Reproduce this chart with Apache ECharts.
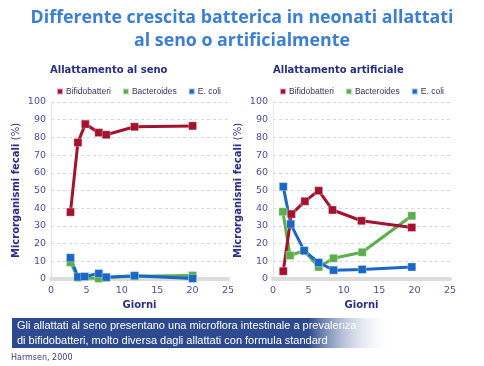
<!DOCTYPE html>
<html><head><meta charset="utf-8">
<script src="https://cdn.jsdelivr.net/npm/echarts@6/dist/echarts.min.js"></script>
<style>html,body{margin:0;padding:0;background:#fff}#c{width:484px;height:366px}</style>
</head><body><div id="c"></div>
<script>
const seriesNames = ['Bifidobatteri', 'Bacteroides', 'E. coli'];
const xTicks = [0, 5, 10, 15, 20, 25];
const yTicks = [0, 10, 20, 30, 40, 50, 60, 70, 80, 90, 100];

// Allattamento al seno: [giorno, %]
const senoBifido = [[2.75, 37.8], [3.8, 77.1], [4.85, 87.5], [6.75, 82.7], [7.8, 81.5], [11.8, 86], [20, 86.5]];
const senoBacteroides = [[2.75, 9.4], [3.8, 0.8], [6.75, 0.3], [7.8, 0.8], [11.8, 1.5], [20, 2]];
const senoEcoli = [[2.75, 12], [3.8, 1.2], [4.75, 1.4], [6.75, 3.1], [7.8, 1], [11.8, 1.9], [20, 0.3]];

// Allattamento artificiale
const artBifido = [[1.45, 4.4], [2.6, 36.7], [4.5, 43.9], [6.45, 49.9], [8.4, 39], [12.5, 32.9], [19.6, 29.1]];
const artBacteroides = [[1.4, 38], [2.4, 13.3], [4.4, 16], [6.45, 6.8], [8.55, 11.7], [12.6, 15.1], [19.6, 35.7]];
const artEcoli = [[1.45, 52.2], [2.5, 31], [4.4, 16], [6.45, 9.3], [8.55, 5], [12.6, 5.4], [19.6, 6.8]];

const colors = ['#a3132f', '#5aae4c', '#1a67c6'];
const navy = '#2b2d82';
const tickColor = '#4a4f9a';

function xAxis(idx) {
  return {
    type: 'value', gridIndex: idx, min: 0, max: 25, interval: 5,
    name: 'Giorni', nameLocation: 'middle', nameGap: 21,
    nameTextStyle: { fontFamily: 'DejaVu Sans', fontWeight: 'bold', fontSize: 10, color: navy },
    axisLine: { show: true, onZero: false, lineStyle: { color: '#dcdcdc', width: 4 } },
    axisTick: { show: false },
    axisLabel: { color: tickColor, fontFamily: 'DejaVu Sans', fontSize: 9.5, margin: 7,
      formatter: v => xTicks.includes(v) ? String(v) : '' },
    splitLine: { show: false }
  };
}
function yAxis(idx) {
  return {
    type: 'value', gridIndex: idx, min: 0, max: 100, interval: 10,
    name: '{b|Microrganismi fecali} {n|(%)}', nameLocation: 'middle', nameGap: 29,
    nameTextStyle: { rich: {
      b: { fontFamily: 'DejaVu Sans', fontWeight: 'bold', fontSize: 10, color: navy },
      n: { fontFamily: 'DejaVu Sans', fontSize: 10, color: navy } } },
    axisLine: { show: true, lineStyle: { color: '#e6e6e6', width: 1 } },
    axisTick: { show: false },
    axisLabel: { color: tickColor, fontFamily: 'DejaVu Sans', fontSize: 9.5, margin: 5,
      formatter: v => yTicks.includes(v) ? String(v) : '' },
    splitLine: { show: true, lineStyle: { color: '#d8d8d8', type: [3, 3], width: 1 } }
  };
}
function line(name, data, ci, gi) {
  return {
    type: 'line', name, data, xAxisIndex: gi, yAxisIndex: gi,
    symbol: 'rect', symbolSize: 8, showAllSymbol: true,
    lineStyle: { color: colors[ci], width: 3 },
    itemStyle: { color: colors[ci], borderColor: 'rgba(255,255,255,0.6)', borderWidth: 0.5 },
    emphasis: { disabled: true }, animation: false
  };
}
function legend(left) {
  return {
    left, top: 87, padding: 0, data: seriesNames, icon: 'rect', itemWidth: 6, itemHeight: 6, itemGap: 11,
    textStyle: { fontFamily: 'Liberation Sans', fontSize: 8.5, color: '#333366', padding: [0, 0, 0, -2] },
    selectedMode: false
  };
}

const chart = echarts.init(document.getElementById('c'), null, { renderer: 'canvas' });
chart.setOption({
  animation: false,
  backgroundColor: '#fff',
  title: [
    { text: 'Differente crescita batterica in neonati allattati\nal seno o artificialmente',
      left: 'center', top: 6, padding: 0,
      textStyle: { fontFamily: 'Open Sans', fontWeight: 'bold', fontSize: 17.8, color: '#3b7fd3', lineHeight: 23, align: 'center' } },
    { text: 'Allattamento al seno', left: 50, top: 65, padding: 0,
      textStyle: { fontFamily: 'DejaVu Sans', fontWeight: 'bold', fontSize: 10, color: navy } },
    { text: 'Allattamento artificiale', left: 273, top: 65, padding: 0,
      textStyle: { fontFamily: 'DejaVu Sans', fontWeight: 'bold', fontSize: 10, color: navy } },
    { text: 'Harmsen, 2000', left: 11, top: 354, padding: 0,
      textStyle: { fontFamily: 'DejaVu Sans', fontWeight: 'normal', fontSize: 8, color: '#3a3a7a' } }
  ],
  legend: [legend(56), legend(279)],
  grid: [
    { left: 51, right: 256, top: 102, bottom: 87 },
    { left: 273, right: 34, top: 102, bottom: 87 }
  ],
  xAxis: [xAxis(0), xAxis(1)],
  yAxis: [yAxis(0), yAxis(1)],
  series: [
    line('Bacteroides', senoBacteroides, 1, 0),
    line('E. coli', senoEcoli, 2, 0),
    line('Bifidobatteri', senoBifido, 0, 0),
    line('Bacteroides', artBacteroides, 1, 1),
    line('E. coli', artEcoli, 2, 1),
    line('Bifidobatteri', artBifido, 0, 1)
  ],
  graphic: [
    { type: 'rect', z: -1, shape: { x: 12, y: 318, width: 380, height: 30 },
      style: { fill: new echarts.graphic.LinearGradient(0, 0, 1, 0, [
        { offset: 0, color: '#2d4a8e' }, { offset: 0.78, color: '#2d4a8e' }, { offset: 1, color: 'rgba(255,255,255,0)' }]) } },
    { type: 'text', left: 17, top: 318, z: 10,
      style: { text: 'Gli allattati al seno presentano una microflora intestinale a prevalenza\ndi bifidobatteri, molto diversa dagli allattati con formula standard',
        fill: '#fff', font: '11px "Liberation Sans"', lineHeight: 15 } }
  ]
});
</script></body></html>
